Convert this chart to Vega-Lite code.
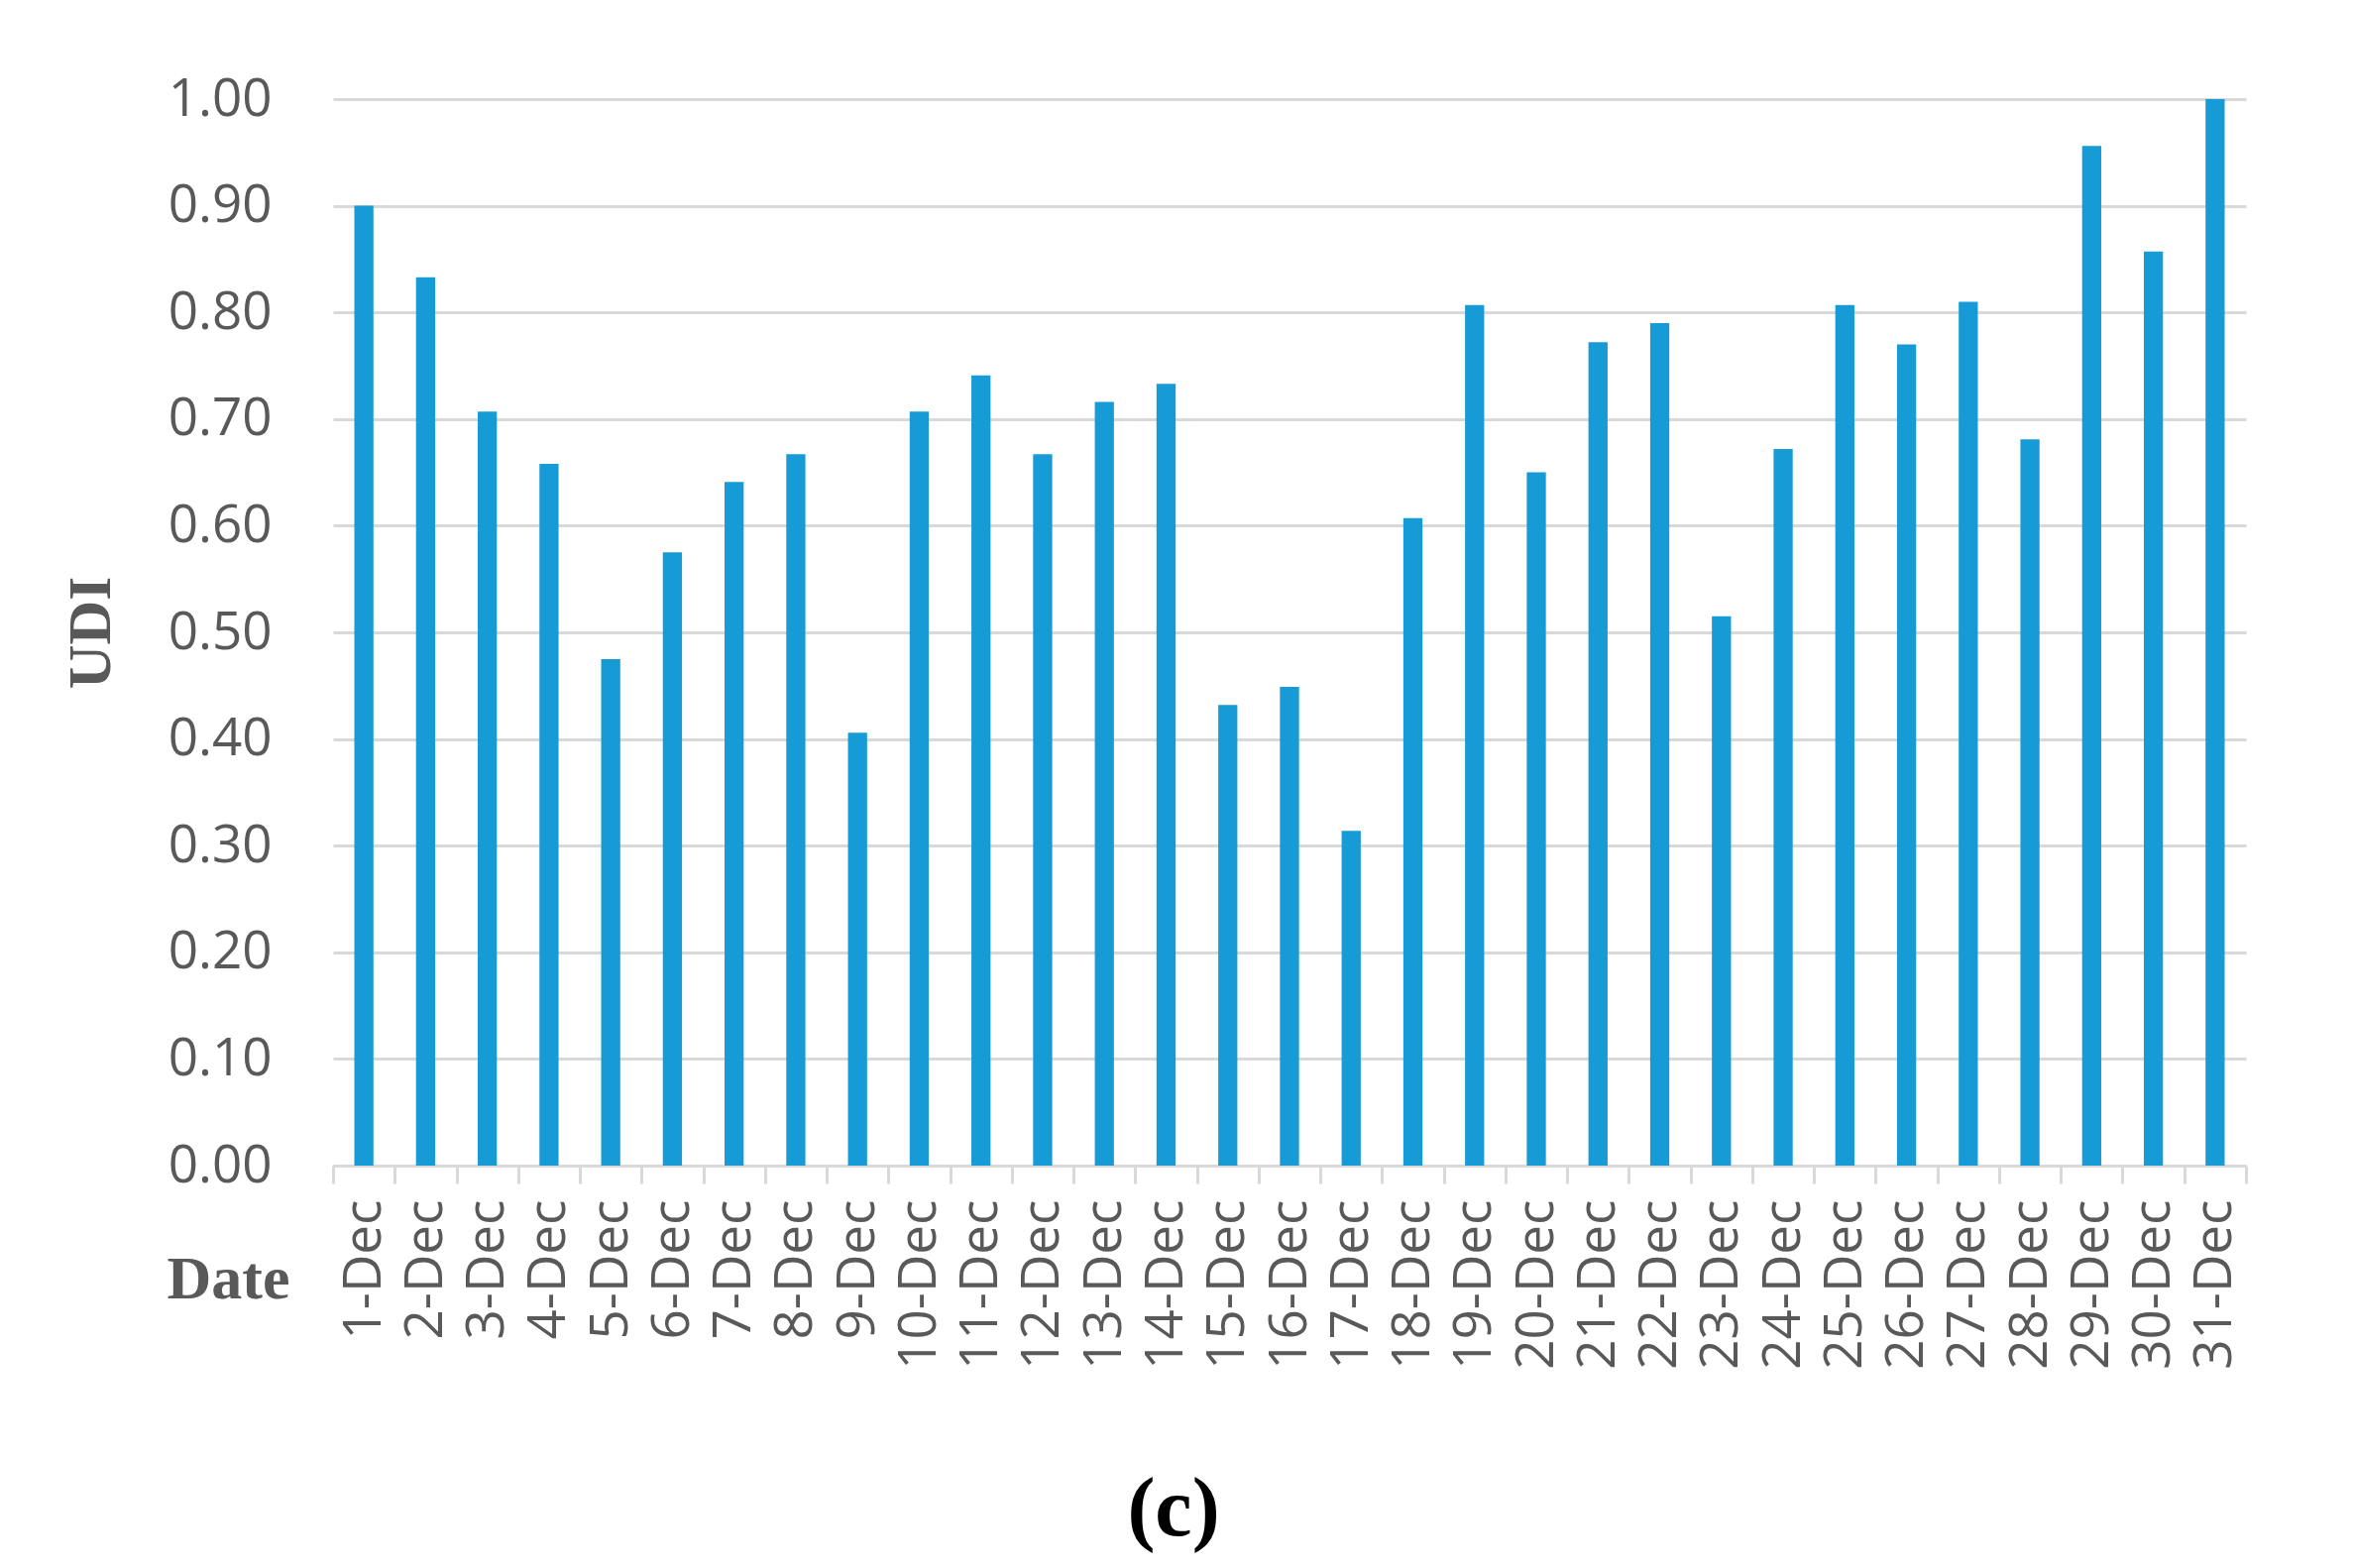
{
  "$schema": "https://vega.github.io/schema/vega-lite/v6.json",
  "width": 1930,
  "height": 1076,
  "autosize": "none",
  "padding": {"left": 336, "top": 100, "right": 108, "bottom": 406},
  "background": "white",
  "title": {
    "text": "(c)",
    "orient": "bottom",
    "anchor": "middle",
    "dx": -117,
    "offset": 102,
    "baseline": "top",
    "font": "Liberation Serif",
    "fontSize": 84,
    "fontWeight": "bold",
    "color": "#000000"
  },
  "data": {
    "values": [
      {"date": "1-Dec", "udi": 0.900},
      {"date": "2-Dec", "udi": 0.833},
      {"date": "3-Dec", "udi": 0.707},
      {"date": "4-Dec", "udi": 0.658},
      {"date": "5-Dec", "udi": 0.475},
      {"date": "6-Dec", "udi": 0.575},
      {"date": "7-Dec", "udi": 0.641},
      {"date": "8-Dec", "udi": 0.667},
      {"date": "9-Dec", "udi": 0.406},
      {"date": "10-Dec", "udi": 0.707},
      {"date": "11-Dec", "udi": 0.741},
      {"date": "12-Dec", "udi": 0.667},
      {"date": "13-Dec", "udi": 0.716},
      {"date": "14-Dec", "udi": 0.733},
      {"date": "15-Dec", "udi": 0.432},
      {"date": "16-Dec", "udi": 0.449},
      {"date": "17-Dec", "udi": 0.314},
      {"date": "18-Dec", "udi": 0.607},
      {"date": "19-Dec", "udi": 0.807},
      {"date": "20-Dec", "udi": 0.650},
      {"date": "21-Dec", "udi": 0.772},
      {"date": "22-Dec", "udi": 0.790},
      {"date": "23-Dec", "udi": 0.515},
      {"date": "24-Dec", "udi": 0.672},
      {"date": "25-Dec", "udi": 0.807},
      {"date": "26-Dec", "udi": 0.770},
      {"date": "27-Dec", "udi": 0.810},
      {"date": "28-Dec", "udi": 0.681},
      {"date": "29-Dec", "udi": 0.956},
      {"date": "30-Dec", "udi": 0.857},
      {"date": "31-Dec", "udi": 1.000}
    ]
  },
  "mark": {"type": "bar", "color": "#179bd7", "width": {"band": 0.31}},
  "encoding": {
    "x": {
      "field": "date",
      "type": "nominal",
      "sort": null,
      "scale": {"paddingInner": 0, "paddingOuter": 0},
      "axis": {
        "title": "Date",
        "titleFont": "Liberation Serif",
        "titleFontSize": 62,
        "titleFontWeight": "bold",
        "titleColor": "#595959",
        "titleAnchor": "start",
        "titleAlign": "center",
        "titleBaseline": "middle",
        "titleX": -106,
        "titleY": 114,
        "labelAngle": -90,
        "labelFont": "Open Sans",
        "labelFontSize": 53,
        "labelColor": "#595959",
        "labelPadding": 16,
        "labelOverlap": false,
        "tickBand": "extent",
        "tickSize": 18,
        "tickColor": "#d9d9d9",
        "tickWidth": 3,
        "domainColor": "#d9d9d9",
        "domainWidth": 3,
        "grid": false
      }
    },
    "y": {
      "field": "udi",
      "type": "quantitative",
      "scale": {"domain": [0, 1], "nice": false},
      "axis": {
        "title": "UDI",
        "titleFont": "Liberation Serif",
        "titleFontSize": 62,
        "titleFontWeight": "bold",
        "titleColor": "#595959",
        "titlePadding": 46,
        "values": [0, 0.1, 0.2, 0.3, 0.4, 0.5, 0.6, 0.7, 0.8, 0.9, 1.0],
        "format": ".2f",
        "labelFont": "Open Sans",
        "labelFontSize": 53,
        "labelColor": "#595959",
        "labelPadding": 62,
        "ticks": false,
        "domain": false,
        "grid": true,
        "gridColor": "#d9d9d9",
        "gridWidth": 3
      }
    }
  },
  "config": {"view": {"stroke": null}}
}
